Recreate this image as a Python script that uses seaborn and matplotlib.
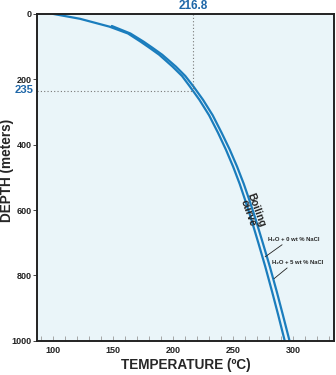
import numpy as np
import pandas as pd
import seaborn as sns
import matplotlib.pyplot as plt
from matplotlib.ticker import MultipleLocator

# boiling point vs depth
depth_0 = [0, 15, 39, 60, 85, 104, 125, 161, 190, 222, 263, 310, 364, 415, 467, 520, 569, 624, 700, 773, 850, 920, 1000]
temp_0 = [100, 122.5, 147, 162.5, 173, 180.5, 188.5, 199.5, 207.5, 214, 222, 230, 237.5, 244, 250, 255.5, 260,
          264.8, 271, 276.8, 282.5, 287.5, 293]

depth_5 = [37, 60, 85, 104, 125, 161, 190, 222, 263, 310, 364, 415, 467, 520, 569, 624, 700, 773, 850, 920, 1000]
temp_5 = [149, 164.5, 175.5, 183, 191, 202.3, 210.2, 217, 225, 233, 240.5, 247.2, 253.3, 258.9, 263.5, 268.4,
          274.7, 280.6, 286.4, 291.4, 297]

depth_ticks = [0, 200, 400, 600, 800, 1000]
temp_ticks = [100, 150, 200, 250, 300]
marked_temp = 216.8
marked_depth = 235

blue = "#1b7dbd"
label_blue = "#1f67a8"

df0 = pd.DataFrame({"temp": temp_0, "depth": depth_0})
df5 = pd.DataFrame({"temp": temp_5, "depth": depth_5})

sns.set_style("ticks")
plt.rcParams["font.family"] = ["Liberation Sans", "DejaVu Sans"]

fig = plt.figure(figsize=(3.36, 3.75), dpi=100)
ax = fig.add_axes([0.110, 0.091, 0.884, 0.872])
ax.set_facecolor("#eaf5f9")

sns.lineplot(data=df0, x="temp", y="depth", sort=False, estimator=None, color=blue, lw=1.6, ax=ax)
sns.lineplot(data=df5, x="temp", y="depth", sort=False, estimator=None, color=blue, lw=1.6, ax=ax)

ax.set_xlim(86.7, 334)
ax.set_ylim(1000, 0)

# dotted guide lines
ax.plot([86.7, marked_temp], [marked_depth, marked_depth], ls=(0, (1, 2)), color="#777777", lw=0.8)
ax.plot([marked_temp, marked_temp], [0, marked_depth], ls=(0, (1, 2)), color="#777777", lw=0.8)

ax.text(marked_temp, -6, f"{marked_temp}", color=label_blue, fontsize=8.5, fontweight="bold",
        ha="center", va="bottom", clip_on=False)
ax.text(84, marked_depth - 3, f"{marked_depth}", color=label_blue, fontsize=8.2, fontweight="bold",
        ha="right", va="center", clip_on=False)

ax.set_xticks(temp_ticks)
ax.set_yticks(depth_ticks)
ax.xaxis.set_minor_locator(MultipleLocator(10))
ax.tick_params(axis="x", which="both", direction="in", length=3.5, width=0.6, color="#999999",
               labelsize=6.5, pad=4)
ax.tick_params(axis="y", direction="out", length=3, width=0.6, labelsize=6.5, pad=1)
for lab in ax.get_xticklabels() + ax.get_yticklabels():
    lab.set_fontweight("bold")
    lab.set_color("#222222")

for s in ax.spines.values():
    s.set_linewidth(1.4)
    s.set_color("#222222")

ax.set_xlabel("TEMPERATURE (ºC)", fontsize=9.8, fontweight="bold", labelpad=2)
ax.set_ylabel("DEPTH (meters)", fontsize=9.8, fontweight="bold")
ax.yaxis.set_label_coords(-0.078, 0.52)

ax.text(266, 605, "Boiling\ncurve", rotation=-70, fontsize=7.5, fontweight="bold",
        ha="center", va="center", linespacing=0.85, color="#222222")

# labels for the two curves with leader lines
ax.text(300.8, 691, "H\u2082O + 0 wt % NaCl", fontsize=4.2, fontweight="bold", ha="center", va="center")
ax.plot([290.8, 276.7], [706, 743], color="#222222", lw=0.6)
ax.text(304, 761, "H\u2082O + 5 wt % NaCl", fontsize=4.2, fontweight="bold", ha="center", va="center")
ax.plot([295, 284], [777, 810], color="#222222", lw=0.6)

fig.savefig("out.png", dpi=100)
